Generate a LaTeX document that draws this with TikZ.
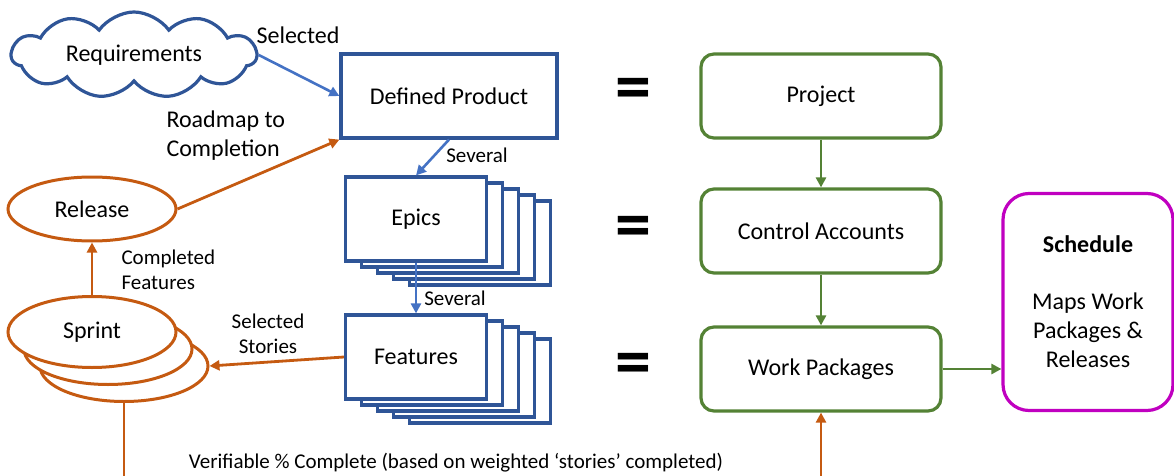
\documentclass[tikz,border=0pt]{standalone}
\usepackage{fontspec}
\setmainfont{Carlito}
\usetikzlibrary{shapes.geometric,shapes.symbols,arrows.meta}
\definecolor{prodblue}{RGB}{47,85,151}
\definecolor{linkblue}{RGB}{68,114,196}
\definecolor{agileorange}{RGB}{197,90,17}
\definecolor{evmgreen}{RGB}{84,130,53}
\definecolor{schedpink}{RGB}{192,0,192}
\tikzset{%
  product box/.style={
    draw=prodblue,
    line width=3.2pt,
    fill=white,
    minimum width=216pt,
    minimum height=84pt,
    font=\fontsize{24}{29}\selectfont
  },
  stack box/.style={
    product box,
    minimum width=141pt
  },
  evm box/.style={
    draw=evmgreen,
    line width=3.2pt,
    rounded corners=13pt,
    minimum width=240pt,
    minimum height=84pt,
    font=\fontsize{24}{29}\selectfont
  },
  agile ell/.style={
    ellipse,
    draw=agileorange,
    line width=3pt,
    fill=white,
    inner sep=0pt,
    minimum width=168pt,
    font=\fontsize{24}{29}\selectfont
  },
  small label/.style={
    font=\fontsize{21}{25}\selectfont
  },
  big label/.style={
    font=\fontsize{24}{29}\selectfont
  },
  equals/.style={
    font=\fontsize{72}{72}\bfseries\selectfont
  }
}

\begin{document}
\begin{tikzpicture}[x=1pt, y=-1pt, >={Triangle[length=10pt,width=10pt]}]
\useasboundingbox (0,0) rectangle (1174,476);

% product side
\node [cloud, draw=prodblue, line width=3.2pt, cloud puffs=11, cloud puff arc=110,
  cloud ignores aspect, minimum width=245pt, minimum height=86pt, inner sep=0pt,
  big label] (req) at (134,55) {Requirements};
\node [product box] (product) at (449,96) {Defined Product};

\foreach \k in {4,3,2,1}
  \node [stack box] (epics-\k) at (416+16*\k, 219+6*\k) {};
\node [stack box] (epics) at (416,219) {Epics};

\foreach \k in {4,3,2,1}
  \node [stack box] (features-\k) at (416+16*\k, 357+6*\k) {};
\node [stack box] (features) at (416,357) {Features};

% agile side
\node [agile ell, minimum height=64pt] (release) at (92,209) {Release};
\foreach \k in {2,1}
  \node [agile ell, minimum height=71pt] (sprint-\k) at (92+16*\k, 332+17*\k) {};
\node [agile ell, minimum height=71pt] (sprint) at (92,332) {Sprint};

% evm side
\node [evm box] (project) at (821,96) {Project};
\node [evm box] (accounts) at (821,231) {Control Accounts};
\node [evm box] (packages) at (821,369) {Work Packages};
\node [draw=schedpink, line width=3.2pt, rounded corners=26pt, minimum width=170pt,
  minimum height=217pt, align=center, big label] (schedule) at (1088,302)
  {\textbf{Schedule}\\[28pt]Maps Work\\Packages \&\\Releases};

\foreach \y [count=\i] in {94,232,369}
  \node [equals] (eq-\i) at (633,\y) {=};

\coordinate (sprint-end) at (124,476);
\coordinate (packages-start) at (821,476);

% connectors
\draw [->, linkblue, line width=2.6pt] (req.east) -- (product.west);
\draw [->, linkblue, line width=2.6pt] (product.south) -- (epics.north);
\draw [->, linkblue, line width=2.6pt] (epics.south) -- (features.north);
\draw [->, agileorange, line width=2.8pt] (release.east) -- (product.south west);
\draw [->, agileorange, line width=2.8pt] (sprint.north) -- (release.south);
\draw [->, agileorange, line width=2.8pt] (features.west) -- (sprint-2.east);
\draw [agileorange, line width=2.8pt] (sprint-2.south) -- (sprint-end);
\draw [->, agileorange, line width=2.8pt] (packages-start) -- (packages.south);
\draw [->, evmgreen, line width=2.8pt] (project) -- (accounts);
\draw [->, evmgreen, line width=2.8pt] (accounts) -- (packages);
\draw [->, evmgreen, line width=2.8pt] (packages.east) -- (packages.east -| schedule.west);

% labels
\node [big label] (selected) at (298,35) {Selected};
\node [big label, align=left, anchor=west] (roadmap) at (163,136) {Roadmap to\\Completion};
\node [small label] (several-1) at (477,155) {Several};
\node [small label] (several-2) at (455,298) {Several};
\node [small label, align=left, anchor=west] (completed) at (118,270) {Completed\\Features};
\node [small label, align=center] (stories) at (268,334) {Selected\\Stories};
\node [small label] (verifiable) at (456,463)
  {Verifiable \% Complete (based on weighted ‘stories’ completed)};

\end{tikzpicture}
\end{document}
